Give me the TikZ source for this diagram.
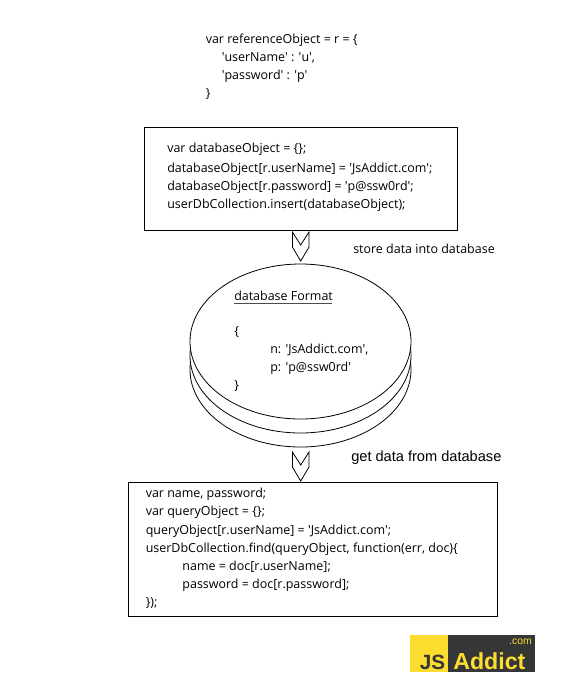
\documentclass[tikz,border=0pt]{standalone}
\usepackage{fontspec}
\setmainfont{Open Sans}
\newfontfamily\arialfont{Liberation Sans}
\usetikzlibrary{shapes.geometric, positioning}
\definecolor{logoyellow}{HTML}{FBDD2F}
\definecolor{logodark}{HTML}{363636}
\newcommand{\sq}{\textquotesingle}
\tikzset{
  codetext/.style={anchor=north west, align=left, inner sep=0pt, font=\fontsize{9.35}{13.6}\selectfont},
  codebox/.style={draw, line width=0.7pt, fill=white, anchor=north west, inner sep=0pt},
  disc/.style={draw, ellipse, fill=white, line width=0.6pt, inner sep=0pt, minimum width=165.75pt, minimum height=116.25pt},
  captiontext/.style={anchor=west, inner sep=0pt},
  pics/downarrow/.style={code={
    \draw[line width=0.6pt, fill=white] (-8.3,0) -- (0,#1) -- (8.3,0) -- (8.3,#1+2) -- (0,#1+16) -- (-8.3,#1+2) -- cycle;
  }}
}
\begin{document}
\begin{tikzpicture}[x=0.75pt, y=-0.75pt]
  \useasboundingbox (0,0) rectangle (580,694);
  % reference object
  \node[codetext] (refObject) at (205.5,33.5) {var referenceObject = r = \{\\
    \hspace{12pt}\sq userName\sq{} : \sq u\sq,\\
    \hspace{12pt}\sq password\sq{} : \sq p\sq\\
    \}};
  % store
  \node[codebox, minimum width=235pt, minimum height=77.25pt] (storeBox) at (144,127) {};
  \node[codetext] (storeText) at (167,143) {var databaseObject = \{\};\\[1.2pt]
    databaseObject[r.userName] = \sq JsAddict.com\sq;\\
    databaseObject[r.password] = \sq p@ssw0rd\sq;\\
    userDbCollection.insert(databaseObject);};
  \pic at (300.7,232) {downarrow=13};
  \node[captiontext, font=\fontsize{9.35}{10}\selectfont] (storeLabel) at (353,249) {store data into database};
  % database
  \node[disc] (dbLow) at (300.5,369.5) {};
  \node[disc] (dbMid) at (300.5,355.5) {};
  \node[disc] (dbTop) at (300.5,341.5) {};
  \node[codetext] (dbTitle) at (234,291) {database Format};
  \draw[line width=0.6pt, draw=black!70] (234,303.5) -- (332,303.5);
  \node[codetext] (dbOpen) at (234,326) {\{};
  \node[codetext] (dbFields) at (270,344) {n: \sq JsAddict.com\sq,\\p: \sq p@ssw0rd\sq};
  \node[codetext] (dbClose) at (234,380) {\}};
  % query
  \pic at (300.7,452) {downarrow=13};
  \node[captiontext, font=\arialfont\fontsize{10.95}{12}\selectfont] (getLabel) at (351,457.5) {get data from database};
  \node[codebox, minimum width=277pt, minimum height=100.5pt] (queryBox) at (127.5,481.5) {};
  \node[codetext] (queryText) at (145.5,488) {var name, password;\\
    var queryObject = \{\};\\
    queryObject[r.userName] = \sq JsAddict.com\sq;\\
    userDbCollection.find(queryObject, function(err, doc)\{\\
    \hspace{27.5pt}name = doc[r.userName];\\
    \hspace{27.5pt}password = doc[r.password];\\
    \});};
  % logo
  \node[fill=logoyellow, anchor=north west, inner sep=0pt, minimum width=28.5pt, minimum height=27.75pt] (logoLeft) at (410,635) {};
  \node[fill=logodark, anchor=north west, inner sep=0pt, minimum width=65.25pt, minimum height=27.75pt] (logoRight) at (448,635) {};
  \node[anchor=base east, inner sep=0pt, text=logodark, font=\arialfont\bfseries\fontsize{15.5}{17}\selectfont] (logoJs) at (445.5,669) {JS};
  \node[anchor=base west, inner sep=0pt, text=logoyellow, font=\arialfont\bfseries\fontsize{17.4}{17}\selectfont] (logoName) at (453,669) {Addict};
  \node[anchor=base east, inner sep=0pt, text=logoyellow, font=\arialfont\fontsize{7.8}{8}\selectfont] (logoCom) at (532,644) {.com};
\end{tikzpicture}
\end{document}
